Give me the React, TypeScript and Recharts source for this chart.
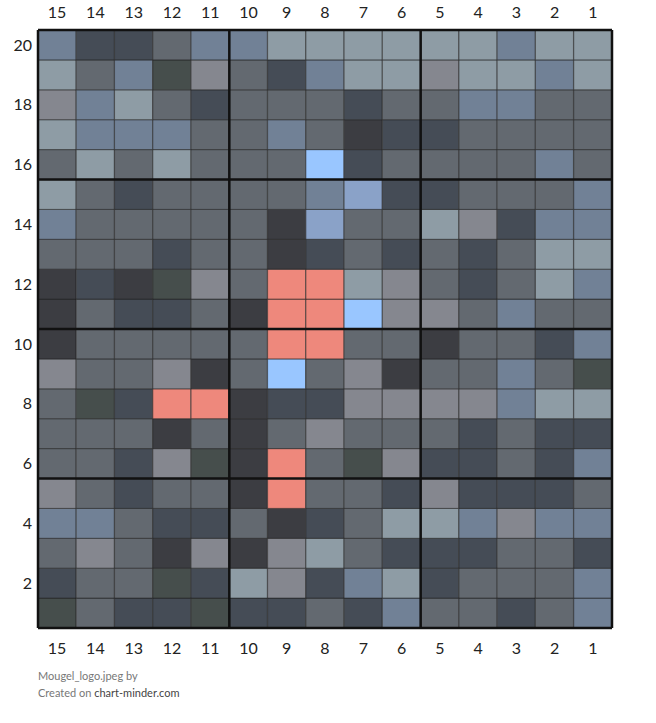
import React from "react";
import { BarChart, Bar, Cell, XAxis, YAxis, ReferenceLine } from "recharts";

// columns read left to right, rows from 20 (top) down to 1
const columns = [15, 14, 13, 12, 11, 10, 9, 8, 7, 6, 5, 4, 3, 2, 1];
const rowNumbers = [20, 19, 18, 17, 16, 15, 14, 13, 12, 11, 10, 9, 8, 7, 6, 5, 4, 3, 2, 1];

// one letter per cell, see palette below
const cellCodes = [
  "ADDMAALLLLLLALL",
  "LMAGPMDALLPLLAL",
  "PALMDMMMDMMAAMM",
  "LAAAMMAMKDDMMMM",
  "MLMLMMMBDMMMMAM",
  "LMDMMMMACDDMMMA",
  "AMMMMMKCMMLPDAA",
  "MMMDMMKDMDMDMLL",
  "KDKGPMSSLPMDMLA",
  "KMDDMKSSBPPMAMM",
  "KMMMMMSSMMKMMDA",
  "PMMPKMBMPKMMAMG",
  "MGDSSKDDPPPPALL",
  "MMMKMKMPMMMDMDD",
  "MMDPGKSMGPDDMDA",
  "PMDMMKSMMDPDDDM",
  "AAMDDMKDMLLAPAA",
  "MPMKPKPLMDDDMMD",
  "DMMGDLPDALDMMMA",
  "GMDDGDDMDAMMDMA",
];

const palette: Record<string, string> = {
  A: "#718196",
  L: "#8e9ca5",
  M: "#636970",
  D: "#454c56",
  K: "#3c3d42",
  G: "#464e4c",
  P: "#85878f",
  B: "#99c6ff",
  C: "#8aa2c8",
  S: "#ee887c",
};

const leftTicks = [1.5, 3.5, 5.5, 7.5, 9.5, 11.5, 13.5, 15.5, 17.5, 19.5];
const rightTicks = [0.5, 2.5, 4.5, 6.5, 8.5, 10.5, 12.5, 14.5, 16.5, 18.5];

const data = columns.map((c) => {
  const row: Record<string, string | number> = { col: String(c) };
  rowNumbers.forEach((r) => {
    row[`r${r}`] = 1;
  });
  return row;
});

const tickStyle = { fill: "#222", fontSize: 16, fontFamily: "Lato" };

export default function App() {
  const stackOrder = [...rowNumbers].reverse();
  return (
    <div style={{ position: "absolute", left: 0, top: 0, width: 656, height: 723, background: "#fff" }}>
      <BarChart
        width={656}
        height={658}
        data={data}
        margin={{ top: 0, right: 0, bottom: 0, left: 0 }}
        barCategoryGap={0}
      >
        <XAxis xAxisId="b" dataKey="col" orientation="bottom" height={30} axisLine={false} tickLine={false} tickSize={0} tickMargin={15} tick={tickStyle} interval={0} />
        <XAxis xAxisId="t" dataKey="col" orientation="top" height={30} axisLine={false} tickLine={false} tickSize={0} tickMargin={12} tick={tickStyle} interval={0} />
        <YAxis yAxisId="l" type="number" domain={[0, 20]} ticks={leftTicks} width={38} axisLine={false} tickLine={false} tickSize={0} tickMargin={6} tick={tickStyle} tickFormatter={(v: number) => String(v + 0.5)} />
        <YAxis yAxisId="r" orientation="right" type="number" domain={[0, 20]} ticks={rightTicks} width={44} axisLine={false} tickLine={false} tickSize={0} tickMargin={10} tick={tickStyle} tickFormatter={(v: number) => String(v + 0.5)} />
        {stackOrder.map((r) => {
          const codes = cellCodes[rowNumbers.indexOf(r)];
          return (
            <Bar key={r} dataKey={`r${r}`} stackId="grid" xAxisId="b" yAxisId="l" stroke="#222" strokeOpacity={0.6} strokeWidth={1} isAnimationActive={false}>
              {columns.map((c, i) => (
                <Cell key={c} fill={palette[codes[i]]} />
              ))}
            </Bar>
          );
        })}
        {[5, 10, 15].map((y) => (
          <ReferenceLine key={`h${y}`} y={y} xAxisId="b" yAxisId="l" stroke="#111" strokeWidth={2.5} />
        ))}
        <ReferenceLine y={0} xAxisId="b" yAxisId="l" stroke="#111" strokeWidth={2.5} />
        <ReferenceLine y={20} xAxisId="b" yAxisId="l" stroke="#111" strokeWidth={2.5} />
        <ReferenceLine x="15" position="start" xAxisId="b" yAxisId="l" stroke="#111" strokeWidth={2.5} />
        <ReferenceLine x="10" position="start" xAxisId="b" yAxisId="l" stroke="#111" strokeWidth={2.5} />
        <ReferenceLine x="5" position="start" xAxisId="b" yAxisId="l" stroke="#111" strokeWidth={2.5} />
        <ReferenceLine x="1" position="end" xAxisId="b" yAxisId="l" stroke="#111" strokeWidth={2.5} />
      </BarChart>
      <div style={{ position: "absolute", left: 38, top: 667, fontFamily: "Lato", fontSize: 11, lineHeight: "17px", color: "#777" }}>
        <div>Mougel_logo.jpeg by</div>
        <div>
          Created on <span style={{ color: "#444" }}>chart-minder.com</span>
        </div>
      </div>
    </div>
  );
}
